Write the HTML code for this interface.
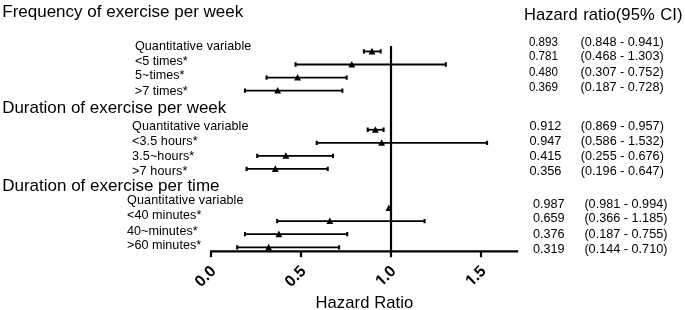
<!DOCTYPE html><html><head><meta charset="utf-8"><title>Forest plot</title><style>html,body{margin:0;padding:0;background:#fff}svg{display:block}text{font-family:"Liberation Sans",Arial,sans-serif;fill:#000}</style></head><body>
<svg width="685" height="310" viewBox="0 0 685 310">
<rect width="685" height="310" fill="#fff"/>
<text x="2.25" y="16.5" font-size="17">Frequency of exercise per week</text>
<text x="2.2" y="112.75" font-size="16.94">Duration of exercise per week</text>
<text x="2.2" y="190.7" font-size="17">Duration of exercise per time</text>
<text x="523.9" y="20.45" font-size="16.6" word-spacing="0.9" letter-spacing="0.05">Hazard ratio(95% CI)</text>
<g font-size="12.6">
<text x="134.9" y="49.6" letter-spacing="0.08">Quantitative variable</text>
<text x="134.9" y="64.5">&lt;5 times*</text>
<text x="135.1" y="79.2">5~times*</text>
<text x="134.8" y="94.6">&gt;7 times*</text>
<text x="132.1" y="129.5" letter-spacing="0.08">Quantitative variable</text>
<text x="132.1" y="144.9" letter-spacing="0.07">&lt;3.5 hours*</text>
<text x="132.1" y="159.6" letter-spacing="0.1">3.5~hours*</text>
<text x="132.1" y="174.6" letter-spacing="0.13">&gt;7 hours*</text>
<text x="127.1" y="204.15" letter-spacing="0.08">Quantitative variable</text>
<text x="127.1" y="219.3" letter-spacing="0.03">&lt;40 minutes*</text>
<text x="127.0" y="234.65" letter-spacing="0.03">40~minutes*</text>
<text x="127.0" y="248.85" letter-spacing="0.03">&gt;60 minutes*</text>
</g>
<g font-size="12" lengthAdjust="spacingAndGlyphs">
<text x="528.9" y="45.85" textLength="29.13" lengthAdjust="spacingAndGlyphs">0.893</text>
<text x="580.6" y="45.85" textLength="83.05" lengthAdjust="spacingAndGlyphs">(0.848 - 0.941)</text>
<text x="528.9" y="60.3" textLength="29.13" lengthAdjust="spacingAndGlyphs">0.781</text>
<text x="580.6" y="60.3" textLength="83.05" lengthAdjust="spacingAndGlyphs">(0.468 - 1.303)</text>
<text x="528.9" y="75.75" textLength="29.13" lengthAdjust="spacingAndGlyphs">0.480</text>
<text x="580.6" y="75.75" textLength="83.05" lengthAdjust="spacingAndGlyphs">(0.307 - 0.752)</text>
<text x="528.9" y="90.75" textLength="29.13" lengthAdjust="spacingAndGlyphs">0.369</text>
<text x="580.6" y="90.75" textLength="83.05" lengthAdjust="spacingAndGlyphs">(0.187 - 0.728)</text>
<text x="529.5" y="129.95" textLength="31.98" lengthAdjust="spacingAndGlyphs">0.912</text>
<text x="580.8" y="129.95" textLength="83.05" lengthAdjust="spacingAndGlyphs">(0.869 - 0.957)</text>
<text x="529.5" y="145.1" textLength="31.98" lengthAdjust="spacingAndGlyphs">0.947</text>
<text x="580.8" y="145.1" textLength="83.05" lengthAdjust="spacingAndGlyphs">(0.586 - 1.532)</text>
<text x="529.5" y="159.5" textLength="31.98" lengthAdjust="spacingAndGlyphs">0.415</text>
<text x="580.8" y="159.5" textLength="83.05" lengthAdjust="spacingAndGlyphs">(0.255 - 0.676)</text>
<text x="529.5" y="174.9" textLength="31.98" lengthAdjust="spacingAndGlyphs">0.356</text>
<text x="580.8" y="174.9" textLength="83.05" lengthAdjust="spacingAndGlyphs">(0.196 - 0.647)</text>
<text x="532.9" y="207.65" textLength="31.68" lengthAdjust="spacingAndGlyphs">0.987</text>
<text x="584.4" y="207.65" textLength="83.05" lengthAdjust="spacingAndGlyphs">(0.981 - 0.994)</text>
<text x="532.9" y="222.4" textLength="31.68" lengthAdjust="spacingAndGlyphs">0.659</text>
<text x="584.4" y="222.4" textLength="83.05" lengthAdjust="spacingAndGlyphs">(0.366 - 1.185)</text>
<text x="532.9" y="237.65" textLength="31.68" lengthAdjust="spacingAndGlyphs">0.376</text>
<text x="584.4" y="237.65" textLength="83.05" lengthAdjust="spacingAndGlyphs">(0.187 - 0.755)</text>
<text x="532.9" y="252.8" textLength="31.68" lengthAdjust="spacingAndGlyphs">0.319</text>
<text x="584.4" y="252.8" textLength="83.05" lengthAdjust="spacingAndGlyphs">(0.144 - 0.710)</text>
</g>
<g stroke="#000" stroke-width="2.2" fill="none">
<path d="M210 251.4H518.2"/>
<path d="M211.0 251.4V257.2"/>
<path d="M301.0 251.4V257.2"/>
<path d="M391.0 251.4V257.2"/>
<path d="M481.0 251.4V257.2"/>
<path d="M391.0 46V251.4"/>
</g>
<g stroke="#000" stroke-width="1.8" fill="none">
<path d="M363.94 51.45H380.68"/><path stroke-width="2.1" d="M363.94 49.30V53.60M380.68 49.30V53.60"/>
<path d="M295.54 64.5H445.84"/><path stroke-width="2.1" d="M295.54 62.35V66.65M445.84 62.35V66.65"/>
<path d="M266.56 77.55H346.66"/><path stroke-width="2.1" d="M266.56 75.40V79.70M346.66 75.40V79.70"/>
<path d="M244.96 90.6H342.34"/><path stroke-width="2.1" d="M244.96 88.45V92.75M342.34 88.45V92.75"/>
<path d="M367.72 129.75H383.56"/><path stroke-width="2.1" d="M367.72 127.60V131.90M383.56 127.60V131.90"/>
<path d="M316.78 142.8H487.06"/><path stroke-width="2.1" d="M316.78 140.65V144.95M487.06 140.65V144.95"/>
<path d="M257.20 155.85H332.98"/><path stroke-width="2.1" d="M257.20 153.70V158.00M332.98 153.70V158.00"/>
<path d="M246.58 168.9H327.76"/><path stroke-width="2.1" d="M246.58 166.75V171.05M327.76 166.75V171.05"/>
<path d="M277.18 221.1H424.60"/><path stroke-width="2.1" d="M277.18 218.95V223.25M424.60 218.95V223.25"/>
<path d="M244.96 234.15H347.20"/><path stroke-width="2.1" d="M244.96 232.00V236.30M347.20 232.00V236.30"/>
<path d="M237.22 247.45H339.10"/><path stroke-width="2.1" d="M237.22 245.30V249.60M339.10 245.30V249.60"/>
</g>
<g fill="#000">
<path d="M371.94 47.85L375.39 54.45H368.49Z"/>
<path d="M351.78 60.90L355.23 67.50H348.33Z"/>
<path d="M297.60 73.95L301.05 80.55H294.15Z"/>
<path d="M277.62 87.00L281.07 93.60H274.17Z"/>
<path d="M375.36 126.15L378.81 132.75H371.91Z"/>
<path d="M381.66 139.20L385.11 145.80H378.21Z"/>
<path d="M285.90 152.25L289.35 158.85H282.45Z"/>
<path d="M275.28 165.30L278.73 171.90H271.83Z"/>
<path d="M388.86 204.45L392.31 211.05H385.41Z"/>
<path d="M329.82 217.50L333.27 224.10H326.37Z"/>
<path d="M278.88 230.55L282.33 237.15H275.43Z"/>
<path d="M268.62 243.85L272.07 250.45H265.17Z"/>
</g>
<circle cx="389.3" cy="208.3" r="0.5" fill="#8a8a8a"/>
<g font-size="16" font-weight="bold" text-anchor="end">
<text transform="translate(216.7 271.9) rotate(-45)">0.0</text>
<text transform="translate(306.7 271.9) rotate(-45)">0.5</text>
<g transform="translate(396.7 271.9) rotate(-45)"><text x="-21.3" text-anchor="start">1</text><path fill="#fff" d="M-21.00 -1.9H-17.57V0.6H-21.00ZM-15.37 -1.9H-12.10V0.6H-15.37Z"/><text>.0</text></g>
<g transform="translate(486.7 271.9) rotate(-45)"><text x="-21.3" text-anchor="start">1</text><path fill="#fff" d="M-21.00 -1.9H-17.57V0.6H-21.00ZM-15.37 -1.9H-12.10V0.6H-15.37Z"/><text>.5</text></g>
</g>
<text x="315.4" y="307.8" font-size="16.6" textLength="97.9">Hazard Ratio</text>
</svg></body></html>
